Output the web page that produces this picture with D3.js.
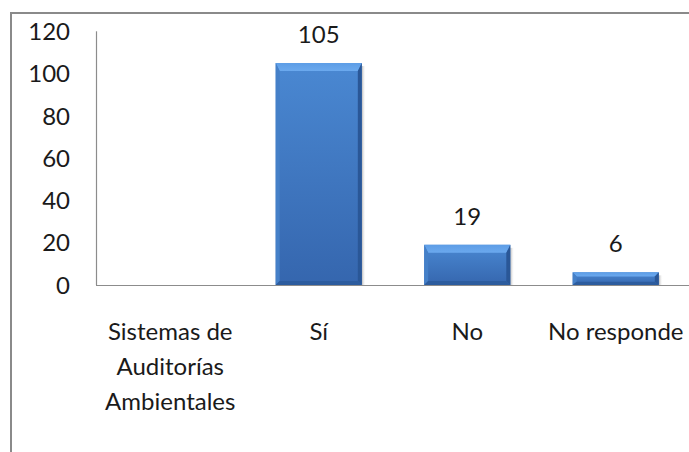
<!DOCTYPE html>
<html><head><meta charset="utf-8">
<script src="https://cdn.jsdelivr.net/npm/d3@7"></script>
<style>
html,body{margin:0;padding:0;background:#fff;}
svg{display:block;}
text{font-family:Lato,"Open Sans",sans-serif;fill:#1a1a1a;}
</style></head>
<body>
<svg id="c" width="689" height="452"></svg>
<script>
const categories = ["Sistemas de Auditorías Ambientales", "Sí", "No", "No responde"];
const values = [null, 105, 19, 6];
const yTicks = [0, 20, 40, 60, 80, 100, 120];

const svg = d3.select("#c");
const W = 689, H = 452;

// outer chart border (cropped at right/bottom)
svg.append("rect").attr("x", 11).attr("y", 13).attr("width", 720).attr("height", 480)
  .attr("fill", "#fff").attr("stroke", "#8a8a8a").attr("stroke-width", 2);

const x = d3.scaleBand().domain(categories).range([96, 690]).paddingInner(0.42).paddingOuter(0.21);
const y = d3.scaleLinear().domain([0, 120]).range([285, 31.3]);

const defs = svg.append("defs");
const g1 = defs.append("linearGradient").attr("id", "body").attr("x1", 0).attr("x2", 0).attr("y1", 0).attr("y2", 1);
g1.append("stop").attr("offset", "0%").attr("stop-color", "#4a88d2");
g1.append("stop").attr("offset", "100%").attr("stop-color", "#3566ae");
const g2 = defs.append("linearGradient").attr("id", "topb").attr("x1", 0).attr("x2", 0).attr("y1", 0).attr("y2", 1);
g2.append("stop").attr("offset", "0%").attr("stop-color", "#5d9de6");
g2.append("stop").attr("offset", "100%").attr("stop-color", "#6ba9ee");
const g3 = defs.append("linearGradient").attr("id", "shadow").attr("x1", 0).attr("x2", 1).attr("y1", 0).attr("y2", 0);
g3.append("stop").attr("offset", "0%").attr("stop-color", "#b8b8b8");
g3.append("stop").attr("offset", "100%").attr("stop-color", "#ffffff").attr("stop-opacity", 0);

// y axis line
svg.append("line").attr("x1", 96.5).attr("x2", 96.5).attr("y1", y(120)).attr("y2", y(0))
  .attr("stroke", "#8c8c8c").attr("stroke-width", 1.2);

// y tick labels
svg.append("g").selectAll("text").data(yTicks).join("text")
  .attr("x", 70).attr("y", d => y(d)).attr("text-anchor", "end").attr("dy", "0.36em")
  .attr("font-size", 24).text(d => d);

const data = categories.map((c, i) => ({c, v: values[i]})).filter(d => d.v != null);

const bars = svg.append("g").selectAll("g").data(data).join("g");
bars.each(function(d) {
  const gg = d3.select(this);
  const x0 = x(d.c), w = x.bandwidth(), y0 = y(d.v), y1 = y(0), h = y1 - y0;
  const b = Math.min(8, h / 3), s = Math.min(4, w / 6), bb = Math.min(4, h / 4);
  gg.append("rect").attr("x", x0 + w).attr("y", y0 + 3).attr("width", 4).attr("height", h - 3).attr("fill", "url(#shadow)");
  gg.append("rect").attr("x", x0).attr("y", y0).attr("width", w).attr("height", h).attr("fill", "url(#body)");
  gg.append("polygon").attr("points", [[x0, y0], [x0 + w, y0], [x0 + w - s, y0 + b], [x0 + s, y0 + b]].join(" "))
    .attr("fill", "url(#topb)");
  gg.append("polygon").attr("points", [[x0, y0], [x0 + s, y0 + b], [x0 + s, y1 - bb], [x0, y1]].join(" "))
    .attr("fill", "#4580c8");
  gg.append("polygon").attr("points", [[x0 + w, y0], [x0 + w - s, y0 + b], [x0 + w - s, y1 - bb], [x0 + w, y1]].join(" "))
    .attr("fill", "#2a5797");
  gg.append("polygon").attr("points", [[x0, y1], [x0 + s, y1 - bb], [x0 + w - s, y1 - bb], [x0 + w, y1]].join(" "))
    .attr("fill", "#2c5c9e");
});

// baseline
svg.append("line").attr("x1", 96).attr("x2", W).attr("y1", y(0) + 0.5).attr("y2", y(0) + 0.5)
  .attr("stroke", "#8c8c8c").attr("stroke-width", 1.2);

// value labels
svg.append("g").selectAll("text").data(data).join("text")
  .attr("x", d => x(d.c) + x.bandwidth() / 2).attr("y", d => y(d.v) - 20)
  .attr("text-anchor", "middle").attr("font-size", 24).text(d => d.v);

// category labels with wrapping
const maxW = x.step();
const cl = svg.append("g").selectAll("text").data(categories).join("text")
  .attr("x", d => x(d) + x.bandwidth() / 2).attr("y", 340)
  .attr("text-anchor", "middle").attr("font-size", 24);
cl.each(function(d) {
  const t = d3.select(this);
  const words = d.split(" ");
  let lines = [], cur = [];
  const probe = t.append("tspan");
  words.forEach(wd => {
    const test = cur.concat(wd).join(" ");
    probe.text(test);
    if (probe.node().getComputedTextLength() > maxW && cur.length) {
      lines.push(cur.join(" ")); cur = [wd];
    } else cur.push(wd);
  });
  lines.push(cur.join(" "));
  probe.remove();
  lines.forEach((ln, i) => {
    t.append("tspan").attr("x", x(d) + x.bandwidth() / 2).attr("dy", i ? 35 : 0).text(ln);
  });
});
</script>
</body></html>
